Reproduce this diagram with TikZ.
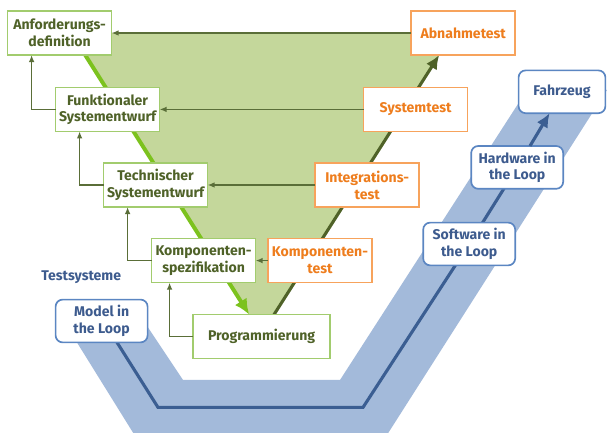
\documentclass[tikz,border=0pt]{standalone}
\usepackage{fontspec}
\setmainfont{Fira Sans}
\usetikzlibrary{arrows.meta,backgrounds}
\definecolor{specedge}{HTML}{A2CC6E}
\definecolor{spectext}{HTML}{4F6228}
\definecolor{vfill}{HTML}{C4D79B}
\definecolor{speclinec}{HTML}{7CC21E}
\definecolor{testlinec}{HTML}{4F6228}
\definecolor{fbline}{HTML}{5A6E38}
\definecolor{testedge}{HTML}{F7A35C}
\definecolor{testtext}{HTML}{EE7D1D}
\definecolor{bandfill}{HTML}{A3BADA}
\definecolor{looplinec}{HTML}{3B5E92}
\definecolor{loopedge}{HTML}{5B86C2}
\definecolor{looptext}{HTML}{3D5B8E}

\begin{document}
\begin{tikzpicture}[inner sep=0pt,outer sep=0pt,thick,
font=\fontsize{10}{12}\selectfont\bfseries,
specblock/.style={draw=specedge,fill=white,line width=1.2pt,align=center,text=spectext,minimum width=2.6cm,minimum height=1.1cm},
testblock/.style={specblock,draw=testedge,text=testtext},
loopblock/.style={draw=loopedge,fill=white,rounded corners=5pt,line width=1.2pt,align=center,text=looptext,minimum width=2.3cm,minimum height=1.07cm},
fb/.style={draw=fbline,line width=1pt,-{Latex[length=5pt,width=4pt]}},
specline/.style={draw=speclinec,line width=2.8pt,-{Latex[length=11pt,width=10pt]}},
testline/.style={draw=testlinec,line width=2.2pt,-{Latex[length=10pt,width=9pt]}},
loopline/.style={draw=looplinec,line width=2.2pt}]

\useasboundingbox (0,0) rectangle (15.175,10.825);

\draw (1.49,10.0) node[specblock] (anf) {Anforderungs-\\definition};
\draw (2.69,8.09) node[specblock] (fkt) {Funktionaler\\Systementwurf};
\draw (3.89,6.2) node[specblock] (tech) {Technischer\\Systementwurf};
\draw (5.09,4.31) node[specblock] (kspez) {Komponenten-\\spezifikation};
\draw (6.54,2.41) node[specblock,minimum width=3.43cm] (prog) {Programmierung};

\draw (11.58,10.0) node[testblock] (abn) {Abnahmetest};
\draw (10.39,8.09) node[testblock] (sys) {Systemtest};
\draw (9.18,6.2) node[testblock] (integ) {Integrations-\\test};
\draw (8.0,4.31) node[testblock] (ktest) {Komponenten-\\test};

\draw (2.03,3.9) node[text=looptext] (tsys) {Testsysteme};
\draw (2.54,2.8) node[loopblock] (mil) {Model in\\the Loop};
\draw (11.73,4.725) node[loopblock] (sil) {Software in\\the Loop};
\draw (12.93,6.64) node[loopblock] (hil) {Hardware in\\the Loop};
\draw (14.05,8.53) node[loopblock,minimum width=2.17cm] (fzg) {Fahrzeug};

\begin{pgfonlayer}{background}
\clip (0,0) rectangle (15.175,10.825);
\fill[vfill] (1.78,10.0) -- (11.33,10.0) -- (6.54,2.48) -- cycle;
\fill[bandfill] (1.575,2.825) -- (3.75,-0.675) -- (9.275,-0.675) -- (15.175,8.575) -- (13.175,8.575)
  -- (8.5,1.325) -- (4.575,1.325) -- (3.575,2.825) -- cycle;
\draw[loopline] ([xshift=0.385cm]mil.south) -- ++(1.025,-1.625) -- ++(5.125,0) -- (sil.center) -- (hil.center);
\draw[specline] ([xshift=0.64cm]anf.south) -- ([xshift=-0.31cm]prog.north);
\draw[testline] ([xshift=0.31cm]prog.north) -- ([xshift=-0.6cm]abn.south);
\end{pgfonlayer}

\draw[loopline,-{Latex[length=10pt,width=9pt]}] (hil) -- ([xshift=-0.31cm]fzg.south);
\draw[fb] (abn) -- (anf);
\draw[fb] (sys) -- (fkt);
\draw[fb] (integ) -- (tech);
\draw[fb] (ktest) -- (kspez);
\draw[fb] (fkt.west) -| ([xshift=-0.7cm]anf.south);
\draw[fb] (tech.west) -| ([xshift=-0.7cm]fkt.south);
\draw[fb] (kspez.west) -| ([xshift=-0.7cm]tech.south);
\draw[fb] (prog.west) -| ([xshift=-0.85cm]kspez.south);
\end{tikzpicture}
\end{document}
